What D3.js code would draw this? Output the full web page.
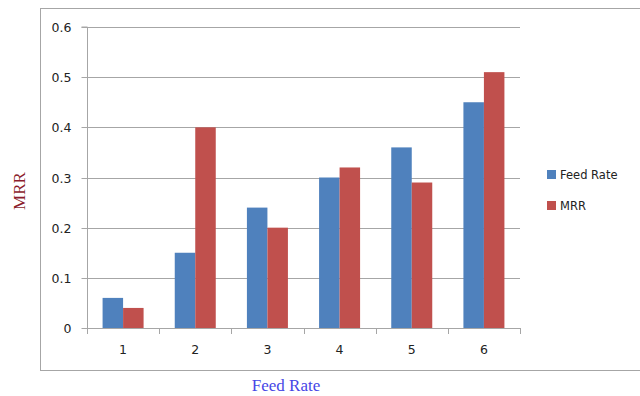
<!DOCTYPE html>
<html>
<head>
<meta charset="utf-8">
<script src="https://cdn.jsdelivr.net/npm/d3@7"></script>
<style>
  html, body { margin: 0; padding: 0; background: #fff; }
  svg { display: block; }
</style>
</head>
<body>
<svg id="chart" width="640" height="396"></svg>
<script>
// Data
const categories = ["1", "2", "3", "4", "5", "6"];
const seriesNames = ["Feed Rate", "MRR"];
const feedRate = [0.06, 0.15, 0.24, 0.30, 0.36, 0.45];
const mrr = [0.04, 0.40, 0.20, 0.32, 0.29, 0.51];
const yTicks = [0, 0.1, 0.2, 0.3, 0.4, 0.5, 0.6];
const colors = ["#4f81bd", "#c0504d"];

const svg = d3.select("#chart");
const plot = { left: 87, right: 520, top: 27, bottom: 328 };

// Outer chart frame (runs past the right edge)
svg.append("rect")
  .attr("x", 40.5).attr("y", 8.5)
  .attr("width", 620).attr("height", 362)
  .attr("fill", "none").attr("stroke", "#a6a6a6").attr("stroke-width", 1);

const x = d3.scaleBand().domain(categories).range([plot.left, plot.right]).paddingInner(0).paddingOuter(0);
const xInner = d3.scaleBand().domain(seriesNames).range([0, x.bandwidth()]).paddingInner(0).paddingOuter(0.76);
const y = d3.scaleLinear().domain([0, 0.6]).range([plot.bottom, plot.top]);

// Horizontal gridlines
svg.append("g").selectAll("line").data(yTicks.filter(d => d > 0)).join("line")
  .attr("x1", plot.left).attr("x2", plot.right)
  .attr("y1", d => Math.round(y(d)) + 0.5).attr("y2", d => Math.round(y(d)) + 0.5)
  .attr("stroke", "#a6a6a6").attr("stroke-width", 1);

// Y axis
const yAxis = d3.axisLeft(y).tickValues(yTicks).tickSize(6).tickPadding(10)
  .tickFormat(d => d === 0 ? "0" : d3.format(".1f")(d));
const gy = svg.append("g").attr("transform", `translate(${plot.left + 0.5},0)`).call(yAxis);
gy.select(".domain").attr("stroke", "#a6a6a6").attr("d", `M-6,${plot.top}H0V${plot.bottom}`);
gy.selectAll(".tick line").attr("stroke", "#a6a6a6");
gy.selectAll(".tick").attr("transform", d => `translate(0,${Math.round(y(d)) + 0.5})`);
gy.selectAll(".tick text").attr("fill", "#222").attr("font-family", "DejaVu Sans, sans-serif").attr("font-size", 12.5);

// Bars
const data = categories.map((c, i) => ({ cat: c, values: [feedRate[i], mrr[i]] }));
const groups = svg.append("g").selectAll("g").data(data).join("g")
  .attr("transform", d => `translate(${x(d.cat)},0)`);
groups.selectAll("rect").data(d => d.values.map((v, j) => ({ name: seriesNames[j], v, j }))).join("rect")
  .attr("x", d => xInner(d.name))
  .attr("width", xInner.bandwidth())
  .attr("y", d => y(d.v))
  .attr("height", d => y(0) - y(d.v))
  .attr("fill", d => colors[d.j]);

// X axis
const xAxis = d3.axisBottom(x).tickSize(0).tickPadding(17);
const gx = svg.append("g").attr("transform", `translate(0,${plot.bottom + 0.5})`).call(xAxis);
gx.select(".domain").attr("stroke", "#a6a6a6").attr("d", `M${plot.left},0H${plot.right}`);
gx.selectAll(".tick text").attr("fill", "#222").attr("font-family", "DejaVu Sans, sans-serif").attr("font-size", 12.5);
// Category separator ticks
svg.append("g").selectAll("line").data(d3.range(categories.length + 1)).join("line")
  .attr("x1", i => Math.round(plot.left + i * x.bandwidth()) + 0.5)
  .attr("x2", i => Math.round(plot.left + i * x.bandwidth()) + 0.5)
  .attr("y1", plot.bottom).attr("y2", plot.bottom + 6)
  .attr("stroke", "#a6a6a6");

// Axis titles
svg.append("text")
  .attr("transform", "translate(25,191) rotate(-90)")
  .attr("text-anchor", "middle")
  .attr("font-family", "Liberation Serif, serif").attr("font-size", 17)
  .attr("fill", "#8b1c2c")
  .text("MRR");
svg.append("text")
  .attr("x", 286).attr("y", 391)
  .attr("text-anchor", "middle")
  .attr("font-family", "Liberation Serif, serif").attr("font-size", 17)
  .attr("fill", "#4646e6")
  .text("Feed Rate");

// Legend
const legend = svg.append("g").selectAll("g").data(seriesNames).join("g")
  .attr("transform", (d, i) => `translate(547,${170 + i * 31})`);
legend.append("rect").attr("width", 9).attr("height", 9).attr("fill", (d, i) => colors[i]);
legend.append("text").attr("x", 13).attr("y", 9)
  .attr("font-family", "DejaVu Sans, sans-serif").attr("font-size", 11.5).attr("fill", "#222")
  .text(d => d);
</script>
</body>
</html>
